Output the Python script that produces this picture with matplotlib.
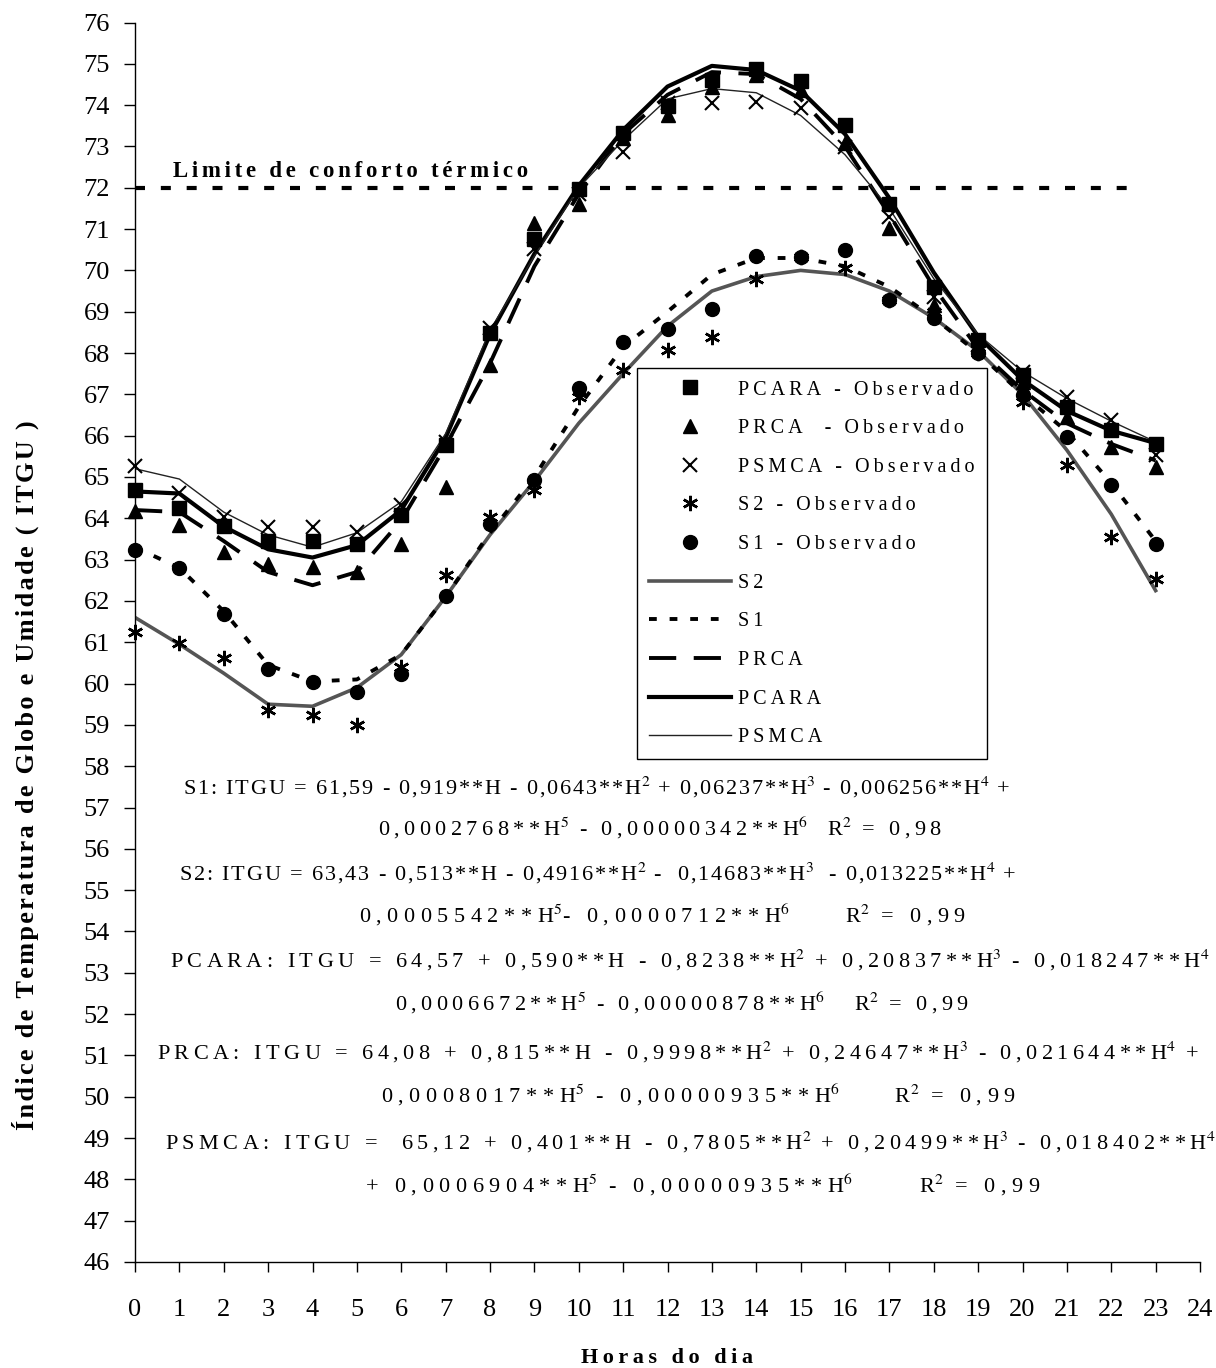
import matplotlib
matplotlib.use("Agg")
import matplotlib.pyplot as plt

plt.rcParams['font.family'] = ['Liberation Serif', 'DejaVu Serif']
plt.rcParams['mathtext.fontset'] = 'stix'

horas = list(range(24))

# valores observados
pcara_obs = [64.68, 64.25, 63.82, 63.45, 63.45, 63.37, 64.07, 65.77, 68.48, 70.77, 71.96, 73.32,
             73.98, 74.62, 74.87, 74.58, 73.52, 71.60, 69.60, 68.31, 67.46, 66.70, 66.13, 65.81]
prca_obs = [64.17, 63.83, 63.19, 62.90, 62.82, 62.70, 63.39, 64.76, 67.70, 71.15, 71.60, 73.20,
            73.76, 74.43, 74.73, 74.37, 73.08, 71.02, 69.16, 68.15, 67.30, 66.46, 65.73, 65.25]
psmca_obs = [65.26, 64.62, 64.03, 63.79, 63.79, 63.67, 64.32, 65.85, 68.60, 70.53, 71.86, 72.87,
             74.05, 74.04, 74.08, 73.92, 72.99, 71.30, 69.36, 68.20, 67.54, 66.94, 66.38, 65.53]
s2_obs = [61.25, 60.98, 60.62, 59.35, 59.25, 58.99, 60.40, 62.62, 64.03, 64.68, 66.94, 67.59,
          68.07, 68.38, 69.80, 70.33, 70.05, 69.28, 69.00, 68.00, 66.82, 65.29, 63.55, 62.54]
s1_obs = [63.24, 62.80, 61.69, 60.36, 60.04, 59.80, 60.24, 62.11, 63.87, 64.92, 67.15, 68.27,
          68.57, 69.06, 70.35, 70.33, 70.49, 69.28, 68.85, 68.00, 66.98, 65.97, 64.80, 63.39]

# curvas ajustadas
s2_fit = [61.60, 60.95, 60.25, 59.50, 59.45, 59.90, 60.70, 62.10, 63.60, 64.90, 66.30, 67.50,
          68.65, 69.50, 69.85, 70.00, 69.90, 69.50, 68.85, 68.05, 67.00, 65.65, 64.10, 62.25]
s1_fit = [63.30, 62.80, 61.75, 60.45, 60.05, 60.10, 60.70, 62.10, 63.65, 65.00, 66.70, 68.15,
          69.00, 69.90, 70.30, 70.30, 70.10, 69.60, 68.85, 68.00, 67.00, 66.10, 64.85, 63.45]
prca_fit = [64.20, 64.15, 63.45, 62.70, 62.38, 62.70, 63.95, 65.75, 67.75, 70.10, 71.85, 73.30,
            74.25, 74.80, 74.75, 74.15, 73.00, 71.35, 69.60, 68.10, 67.10, 66.30, 65.80, 65.40]
pcara_fit = [64.65, 64.60, 63.80, 63.25, 63.05, 63.35, 64.20, 65.95, 68.45, 70.40, 72.05, 73.40,
             74.45, 74.95, 74.85, 74.35, 73.30, 71.75, 69.95, 68.40, 67.35, 66.60, 66.12, 65.82]
psmca_fit = [65.20, 64.95, 64.15, 63.60, 63.30, 63.65, 64.40, 66.05, 68.55, 70.35, 72.00, 73.15,
             74.15, 74.40, 74.30, 73.75, 72.80, 71.50, 69.80, 68.45, 67.55, 66.90, 66.35, 65.85]

limite = 72
limite_x = [0, 22.7]

HAIR, SEXTO, FINO = '\u200a', '\u2006', '\u2009'

# texto, centro x, centro y (px), espaçamento entre letras
equacoes = [
    ("S1: ITGU = 61,59 - 0,919**H - 0,0643**H$^2$ + 0,06237**H$^3$ - 0,006256**H$^4$ +", 597, 787, HAIR),
    ("0,0002768**H$^5$ - 0,00000342**H$^6$  R$^2$ = 0,98", 660, 828, FINO),
    ("S2: ITGU = 63,43 - 0,513**H - 0,4916**H$^2$ -  0,14683**H$^3$  - 0,013225**H$^4$ +", 597, 873, HAIR),
    ("0,0005542**H$^5$- 0,0000712**H$^6$     R$^2$ = 0,99", 663, 915, SEXTO + HAIR),
    ("PCARA: ITGU = 64,57 + 0,590**H - 0,8238**H$^2$ + 0,20837**H$^3$ - 0,018247**H$^4$", 690, 960, FINO),
    ("0,0006672**H$^5$ - 0,00000878**H$^6$   R$^2$ = 0,99", 682, 1003, FINO),
    ("PRCA: ITGU = 64,08 + 0,815**H - 0,9998**H$^2$ + 0,24647**H$^3$ - 0,021644**H$^4$ +", 678, 1052, FINO),
    ("0,0008017**H$^5$ - 0,00000935**H$^6$     R$^2$ = 0,99", 698, 1095, SEXTO + HAIR),
    ("PSMCA: ITGU =  65,12 + 0,401**H - 0,7805**H$^2$ + 0,20499**H$^3$ - 0,018402**H$^4$", 690, 1142, FINO),
    ("+ 0,0006904**H$^5$ - 0,00000935**H$^6$      R$^2$ = 0,99", 703, 1185, SEXTO + HAIR),
]

W, H = 1216, 1368
fig = plt.figure(figsize=(W / 100, H / 100), dpi=100)
ax = fig.add_axes([135 / W, 106 / H, 1065 / W, 1239.5 / H])


def esp(s, sep=FINO):
    # espaçamento entre letras (fora dos trechos $...$)
    partes = s.split('$')
    for i in range(0, len(partes), 2):
        partes[i] = sep.join(partes[i])
    return '$'.join(partes)


ax.plot(limite_x, [limite, limite], color='black', lw=3, linestyle=(0, (2.4, 3.8)))
ax.text(0.85, 72.15, esp('Limite de conforto térmico', SEXTO), fontsize=16.5, fontweight='bold',
        ha='left', va='bottom')

l_s2, = ax.plot(horas, s2_fit, color='#555555', lw=2.6, solid_joinstyle='round')
l_s1, = ax.plot(horas, s1_fit, color='black', lw=2.8, linestyle=(0, (2, 3.3)))
l_prca, = ax.plot(horas, prca_fit, color='black', lw=2.8, linestyle=(0, (7, 4.5)))
l_pcara, = ax.plot(horas, pcara_fit, color='black', lw=3, solid_joinstyle='round')
l_psmca, = ax.plot(horas, psmca_fit, color='#222222', lw=1)

ms = 10
m_pcara, = ax.plot(horas, pcara_obs, 's', color='black', ms=ms, clip_on=False)
m_prca, = ax.plot(horas, prca_obs, '^', color='black', ms=ms, clip_on=False)
m_psmca, = ax.plot(horas, psmca_obs, 'x', color='black', ms=ms, mew=1.5, clip_on=False)
m_s2, = ax.plot(horas, s2_obs, marker=(6, 2, 0), ls='none', color='black', ms=ms + 1, mew=1.8,
                clip_on=False)
m_s1, = ax.plot(horas, s1_obs, 'o', color='black', ms=ms, clip_on=False)

ax.set_xlim(0, 24)
ax.set_ylim(46, 76)
ax.set_xticks(range(25))
ax.set_yticks(range(46, 77))
ax.spines['top'].set_visible(False)
ax.spines['right'].set_visible(False)
for s in ['left', 'bottom']:
    ax.spines[s].set_linewidth(1)
ax.tick_params(axis='x', direction='out', length=7, width=1, labelsize=19, pad=20)
ax.tick_params(axis='y', direction='out', length=8, width=1, labelsize=19, pad=10)

handles = [m_pcara, m_prca, m_psmca, m_s2, m_s1, l_s2, l_s1, l_prca, l_pcara, l_psmca]
labels = ['PCARA - Observado', 'PRCA  - Observado', 'PSMCA - Observado', 'S2 - Observado',
          'S1 - Observado', 'S2', 'S1', 'PRCA', 'PCARA', 'PSMCA']
leg = ax.legend(handles, [esp(l) for l in labels], loc='upper left', bbox_to_anchor=(0.471, 0.721),
                borderaxespad=0, fontsize=14.5, frameon=True, fancybox=False, framealpha=1,
                edgecolor='black', handlelength=4.1, handletextpad=0.35, borderpad=0.6,
                labelspacing=0.97)
leg.get_frame().set_linewidth(1)

for texto, x, y, sep in equacoes:
    fig.text(x / W, 1 - y / H, esp(texto, sep), fontsize=16, ha='center', va='center')

fig.text(25 / W, 1 - 775 / H, esp('Índice de Temperatura de Globo e Umidade ( ITGU )', HAIR),
         rotation=90, fontsize=19, fontweight='bold', ha='center', va='center')
fig.text(667 / W, 1 - 1358 / H, esp('Horas do dia'), fontsize=16, fontweight='bold',
         ha='center', va='center')

fig.savefig('out.png', dpi=100)
